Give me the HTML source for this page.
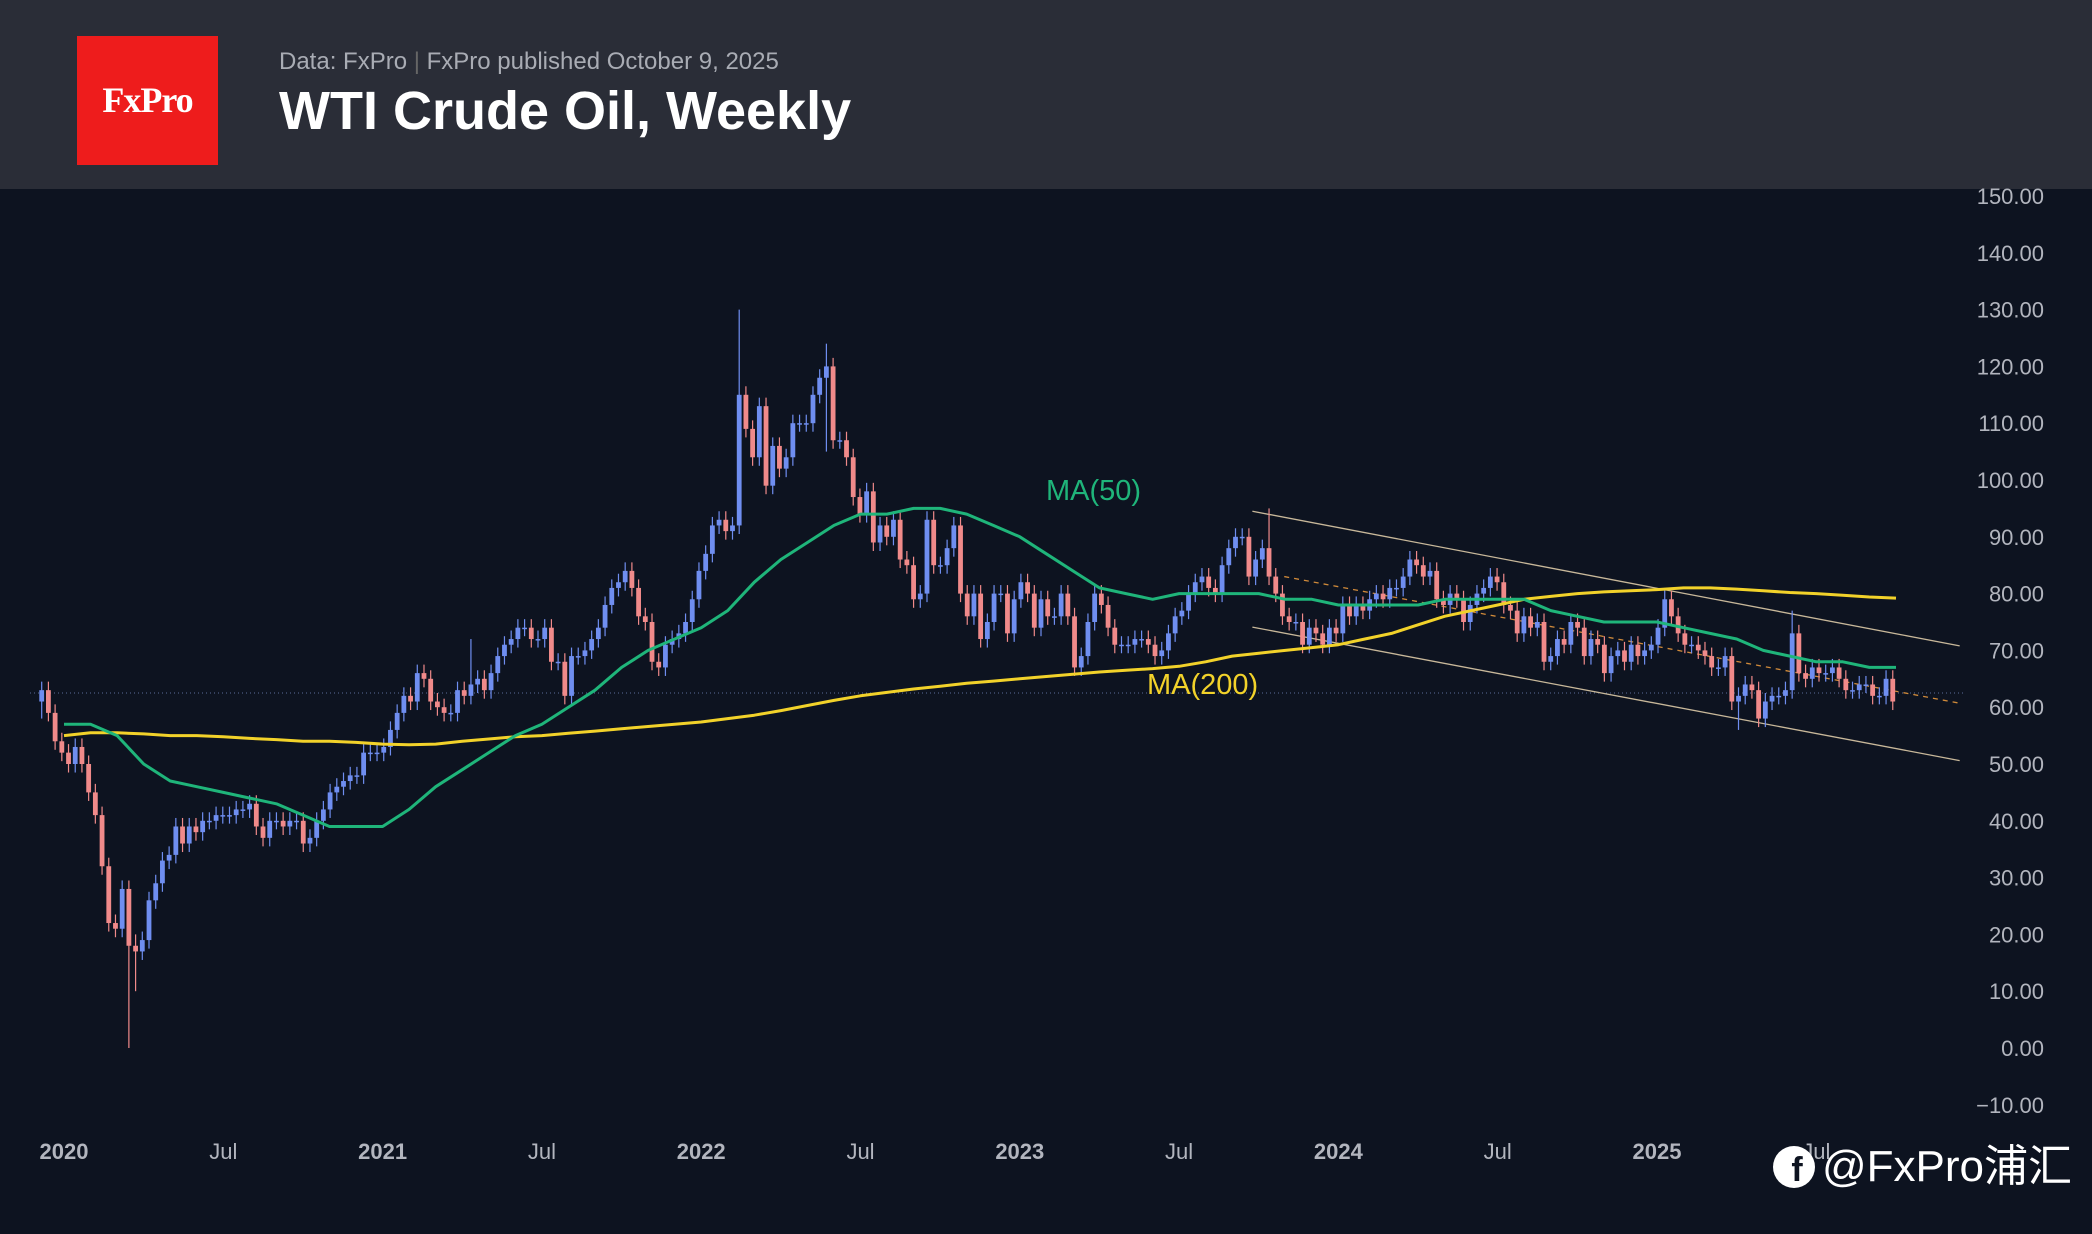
<!DOCTYPE html>
<html><head><meta charset="utf-8">
<style>
body{margin:0;width:2092px;height:1234px;overflow:hidden;background:#0d1320;font-family:"Liberation Sans","Noto Sans CJK SC",sans-serif}
#hdr{position:absolute;left:0;top:0;width:2092px;height:189px;background:#2a2d37}
#logo{position:absolute;left:77px;top:36px;width:141px;height:129px;background:#ee1c1c;color:#fff;font-family:"Liberation Serif",serif;font-weight:bold;font-size:36px;line-height:129px;text-align:center;letter-spacing:-1px}
#sub{position:absolute;left:279px;top:48px;color:#a9acb4;font-size:24px}
#title{position:absolute;left:279px;top:80px;color:#fff;font-size:54px;font-weight:bold}
svg{position:absolute;left:0;top:0}
</style></head><body>
<div id="hdr">
<div id="logo">FxPro</div>
<div id="sub">Data: FxPro <span style="color:#666">|</span> FxPro published October 9, 2025</div>
<div id="title">WTI Crude Oil, Weekly</div>
</div>
<svg id="c" width="2092" height="1234"></svg>
<script>
const closes=[63,59,54,52,50,53,50,45,41,32,22,21,28,18,17,19,26,29,33,34,39,36,39,38,40,40,41,41,41,42,42,43,39,37,40,40,39,40,40,36,37,40,42,45,46,47,48,48,
52,52,52,53,56,59,62,61,66,65,61,60,59,59,63,62,64,65,63,66,69,71,72,74,74,72,72,74,68,68,62,69,69,70,72,74,78,81,82,84,81,76,75,68,67,71,72,73,
75,79,84,87,92,93,91,92,115,109,104,113,99,106,102,104,110,110,110,115,118,120,107,107,104,97,94,98,89,92,90,93,86,85,79,80,93,85,85,88,92,80,76,80,72,75,80,80,
73,79,82,80,74,79,76,76,80,76,67,69,75,80,78,74,71,71,71,72,72,71,69,70,73,76,77,80,82,83,81,80,85,88,90,90,83,86,88,83,80,76,75,75,71,74,73,71,
74,73,78,76,78,77,79,80,79,81,81,83,86,85,83,84,79,78,80,79,75,78,80,81,83,82,78,77,73,76,74,75,68,69,72,71,75,74,69,72,71,66,69,70,68,71,69,70,
71,74,79,76,73,71,71,70,69,67,67,69,61,62,64,63,58,61,62,62,63,73,66,65,67,66,66,67,65,63,63,64,64,62,62,65,61];
const spikes=[[0,63,58],[13,29,0],[14,20,10],[64,72,61],[104,130,100],[117,124,105],[183,95,86],[242,81,73],[253,63,56],[261,77,63]];
const ma50=[57,57,55,50,47,46,45,44,43,41,39,39,39,42,46,49,52,55,57,60,63,67,70,72,74,77,82,86,89,92,94,94,95,95,94,92,90,87,84,81,80,79,80,80,80,80,79,79,78,78,78,78,79,79,79,79,77,76,75,75,75,74,73,72,70,69,68,68,67,67];
const ma200=[55,55.5,55.5,55.3,55,55,54.8,54.5,54.3,54,54,53.8,53.5,53.4,53.5,54,54.4,54.8,55,55.4,55.8,56.2,56.6,57,57.4,58,58.6,59.4,60.3,61.2,62,62.6,63.2,63.7,64.2,64.6,65,65.4,65.8,66.2,66.5,66.8,67.2,68,69,69.5,70,70.5,71,72,73,74.5,76,77,78,79,79.5,80,80.3,80.5,80.7,81,81,80.8,80.5,80.2,80,79.7,79.4,79.2];
const yTicks=[150,140,130,120,110,100,90,80,70,60,50,40,30,20,10,0,-10];
const xLabels=[["2020",2020],["Jul",2020.5],["2021",2021],["Jul",2021.5],["2022",2022],["Jul",2022.5],["2023",2023],["Jul",2023.5],["2024",2024],["Jul",2024.5],["2025",2025],["Jul",2025.5]];
const X=t=>64+(t-2020)*318.6, Y=v=>196+(150-v)*5.68;
const svg=document.getElementById('c'),NS='http://www.w3.org/2000/svg';
function mk(tag,a,txt){const e=document.createElementNS(NS,tag);for(const k in a)e.setAttribute(k,a[k]);if(txt!=null)e.textContent=txt;svg.appendChild(e);return e;}
yTicks.forEach(v=>{const e=mk('text',{x:2044,y:Y(v)+8,fill:'#b2b5be','font-size':22,'text-anchor':'end','font-family':'Liberation Sans'},v.toFixed(2).replace('-','−'));

});
xLabels.forEach(([s,t])=>{const e=mk('text',{x:X(t),y:1159,fill:'#b2b5be','font-size':22,'font-weight':s.length==4?'bold':'normal','text-anchor':'middle'},s);

});
const pl=mk('line',{x1:30,x2:1965,y1:Y(62.5),y2:Y(62.5),stroke:'#5a6e9a','stroke-width':1,'stroke-dasharray':'1 3'});


const ch=[[2023.73,94.5,2025.95,70.8,'#c8b89a',''],[2023.83,83,2025.95,60.7,'#d08a3a','5 5'],[2023.73,74.1,2025.95,50.6,'#c8b89a','']];
ch.forEach(c=>{const l=mk('line',{x1:X(c[0]),y1:Y(c[1]),x2:X(c[2]),y2:Y(c[3]),stroke:c[4],'stroke-width':1.3,'stroke-dasharray':c[5]});

});
const t0=2019.93,t1=2025.74,N=closes.length,dt=(t1-t0)/(N-1);
const sp={};spikes.forEach(s=>sp[s[0]]=s);
for(let i=0;i<N;i++){const c=closes[i],o=i?closes[i-1]:61;let h=Math.max(o,c)+1.5,l=Math.min(o,c)-1.5;
if(sp[i]){h=Math.max(h,sp[i][1]);l=Math.min(l,sp[i][2]);}
const up=c>=o,col=up?'#6f8ef0':'#f08a8a',x=X(t0+i*dt);
const w=mk('line',{x1:x,x2:x,y1:Y(h),y2:Y(l),stroke:col,'stroke-width':1.2});


const r=mk('rect',{x:x-2.4,y:Y(Math.max(o,c)),width:4.8,height:Math.max(1.5,Math.abs(Y(o)-Y(c))),fill:col});

}
function line(arr,col,name){const d=arr.map((v,i)=>(i?'L':'M')+X(2020+i/12).toFixed(1)+','+Y(v).toFixed(1)).join('');
const p=mk('path',{d:d,fill:'none',stroke:col,'stroke-width':3,'stroke-linejoin':'round'});

}
line(ma200,'#f2d22a','ma200-line');line(ma50,'#1fb57a','ma50-line');
const l1=mk('text',{x:1046,y:500,fill:'#1fb57a','font-size':29},'MA(50)');


const l2=mk('text',{x:1147,y:694,fill:'#f2d22a','font-size':29},'MA(200)');


const fb=mk('circle',{cx:1794,cy:1167,r:21,fill:'#fff'});


const ff=mk('text',{x:1797,y:1181,fill:'#0d1320','font-size':34,'font-weight':'bold','text-anchor':'middle'},'f');


const wm=mk('text',{x:1822,y:1181,fill:'#fff','font-size':44,'font-family':'Liberation Sans, Noto Sans CJK SC, sans-serif'},'@FxPro浦汇');


</script>
</body></html>
